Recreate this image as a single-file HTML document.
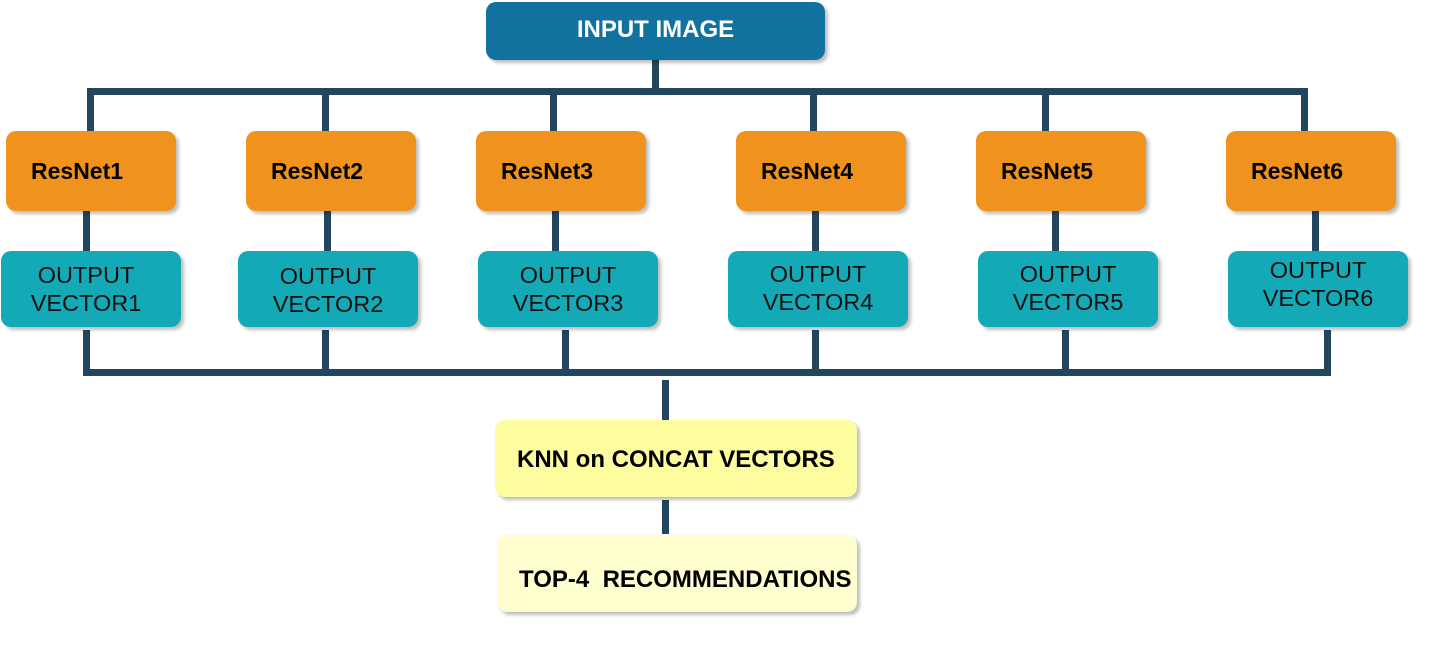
<!DOCTYPE html>
<html><head><style>
body{margin:0;width:1440px;height:663px;background:#fff;position:relative;overflow:hidden;font-family:"Liberation Sans",Arial,sans-serif}
.b{position:absolute;box-sizing:border-box;border-radius:10px;box-shadow:3px 3px 3px rgba(0,0,0,0.25)}
.l{position:absolute;background:#23465f}
.r{background:#f0931e;font-weight:bold;font-size:23px;color:#000;line-height:80px;padding-left:25px;width:170px;height:80px;top:131px}
.o{background:#14a9b6;font-size:23.5px;color:#111;text-align:center;width:180px;height:76px;top:251px;line-height:28px;padding-top:10px}
.t{font-weight:bold;font-size:24px;color:#000}
</style></head><body>
<div class="l" style="left:652px;top:60px;width:7px;height:35px"></div>
<div class="l" style="left:87px;top:88px;width:1221px;height:7px"></div>
<div class="l" style="left:87px;top:88px;width:7px;height:43px"></div>
<div class="l" style="left:322px;top:88px;width:7px;height:43px"></div>
<div class="l" style="left:550px;top:88px;width:7px;height:43px"></div>
<div class="l" style="left:810px;top:88px;width:7px;height:43px"></div>
<div class="l" style="left:1042px;top:88px;width:7px;height:43px"></div>
<div class="l" style="left:1301px;top:88px;width:7px;height:43px"></div>

<div class="l" style="left:83px;top:211px;width:7px;height:40px"></div>
<div class="l" style="left:324px;top:211px;width:7px;height:40px"></div>
<div class="l" style="left:552px;top:211px;width:7px;height:40px"></div>
<div class="l" style="left:812px;top:211px;width:7px;height:40px"></div>
<div class="l" style="left:1052px;top:211px;width:7px;height:40px"></div>
<div class="l" style="left:1312px;top:211px;width:7px;height:40px"></div>

<div class="l" style="left:83px;top:330px;width:7px;height:46px"></div>
<div class="l" style="left:322px;top:330px;width:7px;height:46px"></div>
<div class="l" style="left:562px;top:330px;width:7px;height:46px"></div>
<div class="l" style="left:812px;top:330px;width:7px;height:46px"></div>
<div class="l" style="left:1062px;top:330px;width:7px;height:46px"></div>
<div class="l" style="left:1324px;top:330px;width:7px;height:46px"></div>
<div class="l" style="left:83px;top:369px;width:1248px;height:7px"></div>
<div class="l" style="left:662px;top:380px;width:7px;height:40px"></div>
<div class="l" style="left:662px;top:500px;width:7px;height:34px"></div>

<div class="b" style="left:486px;top:2px;width:339px;height:58px;background:#12729f;color:#fff;font-weight:bold;font-size:24px;text-align:center;line-height:56px">INPUT IMAGE</div>

<div class="b r" style="left:6px">ResNet1</div>
<div class="b r" style="left:246px">ResNet2</div>
<div class="b r" style="left:476px">ResNet3</div>
<div class="b r" style="left:736px">ResNet4</div>
<div class="b r" style="left:976px">ResNet5</div>
<div class="b r" style="left:1226px">ResNet6</div>

<div class="b o" style="left:1px;padding-right:10px">OUTPUT<br>VECTOR1</div>
<div class="b o" style="left:238px;padding-top:11px">OUTPUT<br>VECTOR2</div>
<div class="b o" style="left:478px">OUTPUT<br>VECTOR3</div>
<div class="b o" style="left:728px;padding-top:9px">OUTPUT<br>VECTOR4</div>
<div class="b o" style="left:978px;padding-top:9px">OUTPUT<br>VECTOR5</div>
<div class="b o" style="left:1228px;padding-top:5px">OUTPUT<br>VECTOR6</div>

<div class="b t" style="left:495px;top:420px;width:362px;height:77px;background:#fdfd9f;line-height:80px;padding-left:22px">KNN on CONCAT VECTORS</div>
<div class="b t" style="left:497px;top:535px;width:360px;height:77px;background:#fefecf;line-height:90px;padding-left:22px;white-space:pre">TOP-4  RECOMMENDATIONS</div>
</body></html>
